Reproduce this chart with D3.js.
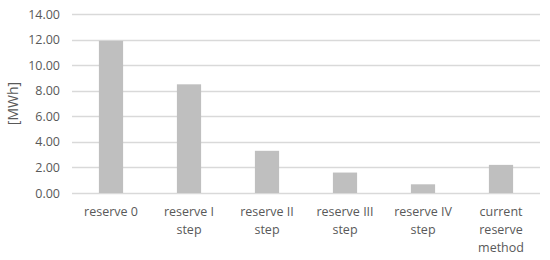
<!DOCTYPE html>
<html>
<head>
<meta charset="utf-8">
<title>Reserve energy</title>
<style>
    body { margin: 0; background: #fff; }
    svg text { font-family: "Open Sans", "Liberation Sans", sans-serif; fill: #595959; }
</style>
</head>
<body>
<div class="plot_container"></div>
<script src="https://cdn.jsdelivr.net/npm/d3@7"></script>
<script>
var categories = ["reserve 0", "reserve I\nstep", "reserve II\nstep", "reserve III\nstep", "reserve IV\nstep", "current\nreserve\nmethod"];
var values = [11.9, 8.5, 3.3, 1.6, 0.68, 2.2];
var yTicks = [0, 2, 4, 6, 8, 10, 12, 14];
var yTitle = "[MWh]";

var width = 550, height = 260;
var margin = {top: 14, right: 10, bottom: 67, left: 72};

var svg = d3.select(".plot_container").append("svg")
    .attr("width", width)
    .attr("height", height);

var x = d3.scaleBand()
    .domain(categories)
    .range([margin.left, width - margin.right])
    .paddingInner(0.69)
    .paddingOuter(0.345);

var y = d3.scaleLinear()
    .domain([0, 14])
    .range([height - margin.bottom, margin.top]);

// gridlines
svg.selectAll(".grid")
    .data(yTicks)
    .enter()
    .append("line")
    .attr("class", "grid")
    .attr("x1", margin.left)
    .attr("x2", width - margin.right)
    .attr("y1", function(d){ return Math.round(y(d)) + 0.5; })
    .attr("y2", function(d){ return Math.round(y(d)) + 0.5; })
    .style("stroke", "#d9d9d9")
    .style("stroke-width", 1.3);

// y labels
var yAxis = svg.append("g")
    .attr("transform", "translate(" + (margin.left - 12) + ",0)")
    .call(d3.axisLeft(y).tickValues(yTicks).tickSize(0).tickPadding(0)
        .tickFormat(function(d){ return d.toFixed(2); }));
yAxis.select(".domain").remove();
yAxis.selectAll("text")
    .style("font-size", "12.5px")
    .style("fill", "#595959")
    .style("font-family", "\"Open Sans\", sans-serif");

// bars
svg.selectAll(".bar")
    .data(values)
    .enter()
    .append("rect")
    .attr("class", "bar")
    .attr("x", function(d, i){ return x(categories[i]); })
    .attr("width", x.bandwidth())
    .attr("y", function(d){ return y(d); })
    .attr("height", function(d){ return y(0) - y(d); })
    .style("fill", "#bfbfbf");

// category labels
var xAxis = svg.append("g")
    .attr("transform", "translate(0," + y(0) + ")")
    .call(d3.axisBottom(x).tickSize(0).tickFormat(""));
xAxis.select(".domain").remove();
xAxis.selectAll(".tick").each(function(d){
    var t = d3.select(this).append("text")
        .attr("text-anchor", "middle")
        .style("font-size", "12.5px");
    d.split("\n").forEach(function(line, k){
        t.append("tspan")
            .attr("x", 0)
            .attr("y", 23 + k * 18)
            .text(line);
    });
});

// y title
svg.append("text")
    .attr("transform", "translate(18," + ((y(0) + y(14)) / 2) + ") rotate(-90)")
    .attr("text-anchor", "middle")
    .style("font-size", "14px")
    .text(yTitle);
</script>
</body>
</html>
